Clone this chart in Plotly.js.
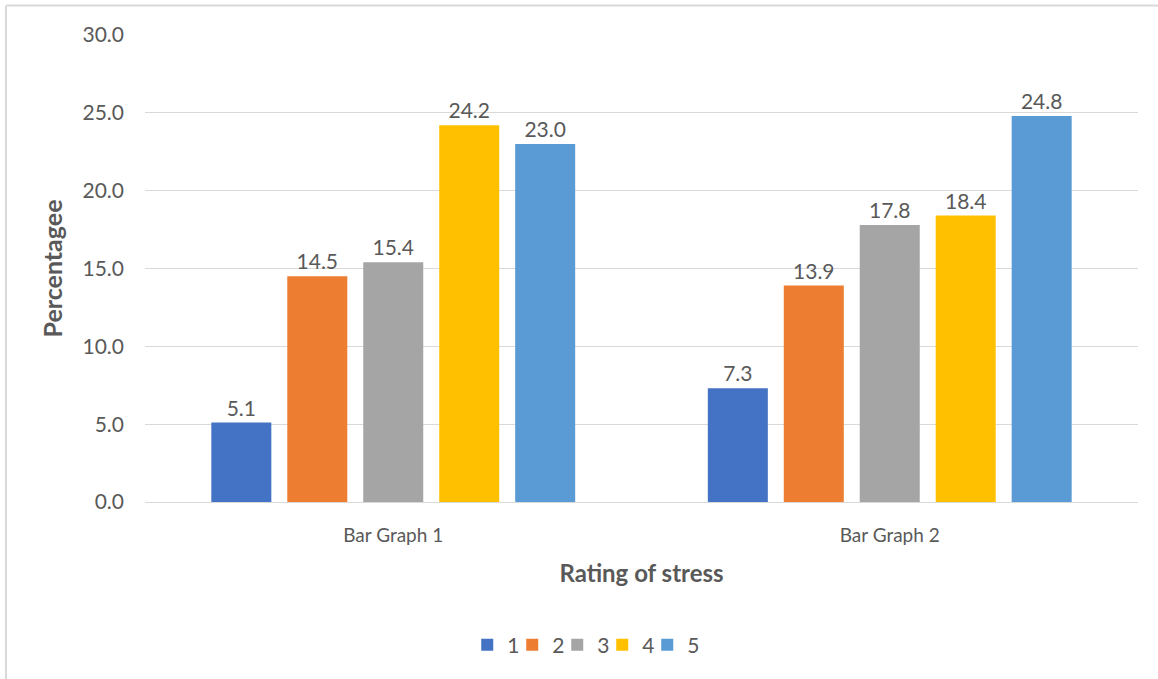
<!DOCTYPE html>
<html>
<head>
<meta charset="utf-8">
<script src="https://cdn.plot.ly/plotly-3.0.1.min.js"></script>
<style>html,body{margin:0;padding:0;background:#fff;}#chart{width:1158px;height:679px;}</style>
</head>
<body>
<div id="chart"></div>
<script>
const categories = ["Bar Graph 1", "Bar Graph 2"];
const seriesNames = ["1", "2", "3", "4", "5"];
const series1 = [5.1, 7.3];
const series2 = [14.5, 13.9];
const series3 = [15.4, 17.8];
const series4 = [24.2, 18.4];
const series5 = [23.0, 24.8];
const yTicks = [0, 5, 10, 15, 20, 25, 30];

const allSeries = [series1, series2, series3, series4, series5];
const colors = ["#4472C4", "#ED7D31", "#A5A5A5", "#FFC000", "#5B9BD5"];
const FONT = "Lato, Open Sans, sans-serif";
const GRAY = "#595959";

const traces = allSeries.map((vals, i) => ({
  type: "bar",
  name: seriesNames[i],
  x: categories,
  y: vals,
  marker: {color: colors[i]},
  text: vals.map(v => v.toFixed(1)),
  textposition: "outside",
  textfont: {family: FONT, size: 21, color: GRAY},
  cliponaxis: false,
  hoverinfo: "none"
}));

const layout = {
  width: 1158, height: 679,
  margin: {l: 145, r: 20, t: 35, b: 177},
  paper_bgcolor: "#fff", plot_bgcolor: "#fff",
  barmode: "group",
  bargap: 0.235,
  bargroupgap: 0.21,
  font: {family: FONT, color: GRAY},
  xaxis: {
    showgrid: false, zeroline: false, showline: false, ticks: "",
    tickfont: {family: FONT, size: 19, color: GRAY},
    ticklabelstandoff: 20,
    title: {text: "Rating of stress", font: {family: FONT, size: 24, color: GRAY, weight: "bold"}, standoff: 20}
  },
  yaxis: {
    range: [0, 30], tickvals: yTicks, ticktext: yTicks.map(v => v.toFixed(1)),
    showgrid: true, gridcolor: "#D9D9D9", gridwidth: 1,
    zeroline: true, zerolinecolor: "#D9D9D9", zerolinewidth: 1,
    showline: false, ticks: "",
    tickfont: {family: FONT, size: 21, color: GRAY},
    ticklabelstandoff: 20,
    title: {text: "Percentagee", font: {family: FONT, size: 25, color: GRAY, weight: "bold"}, standoff: 12}
  },
  showlegend: true,
  legend: {
    orientation: "h", xref: "container", yref: "container",
    x: 0.511, xanchor: "center", y: 0.05, yanchor: "middle",
    font: {family: FONT, size: 21, color: GRAY},
    itemwidth: 30, indentation: -12, entrywidth: 12, entrywidthmode: "pixels"
  },
  shapes: [
    {type: "line", xref: "paper", yref: "paper", x0: -0.140, x1: -0.140, y0: -0.4, y1: 1.063, line: {color: "#D9D9D9", width: 2}},
    {type: "line", xref: "paper", yref: "paper", x0: -0.140, x1: 1.03, y0: 1.063, y1: 1.063, line: {color: "#D9D9D9", width: 2}}
  ]
};

Plotly.newPlot("chart", traces, layout, {displayModeBar: false, staticPlot: true});
</script>
</body>
</html>
